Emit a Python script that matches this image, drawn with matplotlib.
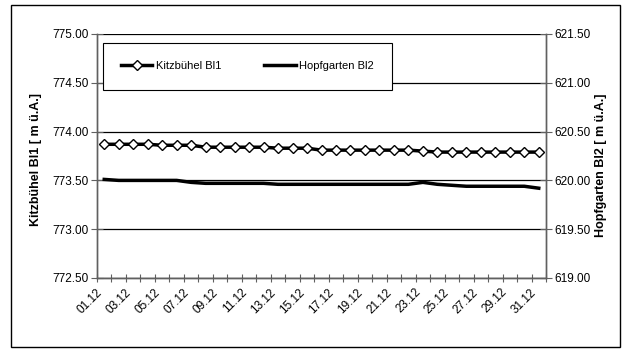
import matplotlib
matplotlib.use("Agg")
import matplotlib.pyplot as plt
from matplotlib.patches import Rectangle
from matplotlib.ticker import FixedLocator, FormatStrFormatter

plt.rcParams['font.family'] = ['Liberation Sans', 'DejaVu Sans']

days = [f"{d:02d}.12" for d in range(1, 32)]
kitzbuehel = [773.87, 773.87, 773.87, 773.87, 773.86, 773.86, 773.86,
              773.84, 773.84, 773.84, 773.84, 773.84, 773.83, 773.83, 773.83,
              773.81, 773.81, 773.81, 773.81, 773.81, 773.81, 773.81,
              773.80, 773.79, 773.79, 773.79, 773.79, 773.79, 773.79, 773.79, 773.79]
hopfgarten = [620.01, 620.00, 620.00, 620.00, 620.00, 620.00, 619.98,
              619.97, 619.97, 619.97, 619.97, 619.97, 619.96, 619.96, 619.96,
              619.96, 619.96, 619.96, 619.96, 619.96, 619.96, 619.96,
              619.98, 619.96, 619.95, 619.94, 619.94, 619.94, 619.94, 619.94, 619.92]
left_ticks = [772.5, 773.0, 773.5, 774.0, 774.5, 775.0]
right_ticks = [619.0, 619.5, 620.0, 620.5, 621.0, 621.5]

W, H = 628, 352
fig = plt.figure(figsize=(W / 100, H / 100), dpi=100)
fig.patch.set_facecolor('white')
# outer frame
fig.patches.append(Rectangle((11 / W, 1 - 347 / H), (620 - 11) / W, (347 - 5) / H,
                             transform=fig.transFigure, fill=False,
                             edgecolor='black', linewidth=1.0))

ax = fig.add_axes([97 / W, 1 - 278 / H, (546 - 97) / W, (278 - 34) / H])
ax2 = ax.twinx()

x = list(range(len(days)))
l1, = ax.plot(x, kitzbuehel, color='black', linewidth=2.5, marker='D',
              markersize=5, markerfacecolor='white', markeredgecolor='black',
              markeredgewidth=1.0, label='Kitzbühel Bl1')
l2, = ax2.plot(x, hopfgarten, color='black', linewidth=2.5, label='Hopfgarten Bl2')

ax.set_xlim(-0.5, len(days) - 0.5)
ax.set_ylim(left_ticks[0], left_ticks[-1])
ax2.set_ylim(right_ticks[0], right_ticks[-1])

ax.yaxis.set_major_locator(FixedLocator(left_ticks))
ax.yaxis.set_major_formatter(FormatStrFormatter('%.2f'))
ax2.yaxis.set_major_locator(FixedLocator(right_ticks))
ax2.yaxis.set_major_formatter(FormatStrFormatter('%.2f'))

ax.set_xticks(x[::2])
ax.set_xticklabels(days[::2], rotation=45, ha='right', va='top', fontsize=8.5)
ax.set_xticks([i - 0.5 for i in range(len(days) + 1)], minor=True)
ax.tick_params(axis='x', which='major', length=0, pad=6)
ax.tick_params(axis='x', which='minor', direction='inout', length=6, width=0.8, color='#606060')
ax.tick_params(axis='y', direction='inout', length=8, width=0.8, color='#606060',
               labelsize=8.5, pad=2)
ax2.tick_params(axis='y', direction='inout', length=8, width=0.8, color='#606060',
                labelsize=8.5, pad=2)

ax.grid(axis='y', color='black', linewidth=0.9)
ax.set_axisbelow(True)
for a in (ax, ax2):
    a.spines['top'].set_visible(False)
    for s in ('left', 'right', 'bottom'):
        a.spines[s].set_color('#606060')
        a.spines[s].set_linewidth(1.0)

fig.text(36 / W, 1 - 160 / H, 'Kitzbühel Bl1 [ m ü.A.]', rotation=90,
         ha='center', va='center', fontsize=9, fontweight='bold')
fig.text(601 / W, 1 - 165 / H, 'Hopfgarten Bl2 [ m ü.A.]', rotation=90,
         ha='center', va='center', fontsize=9, fontweight='bold')

leg = ax2.legend(handles=[l1, l2], loc='upper left', ncol=2,
                 bbox_to_anchor=(103 / W, 1 - 43 / H), bbox_transform=fig.transFigure,
                 borderaxespad=0, fontsize=8, frameon=True, fancybox=False,
                 edgecolor='black', framealpha=1, handlelength=2.8,
                 handletextpad=0.3, columnspacing=3.9, borderpad=1.65)
leg.get_frame().set_linewidth(0.8)

fig.savefig('out.png', dpi=100)
